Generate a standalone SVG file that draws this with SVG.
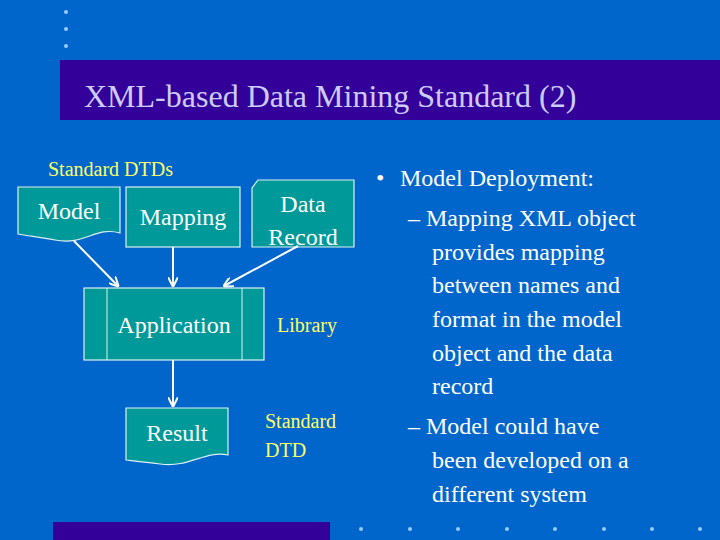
<svg xmlns="http://www.w3.org/2000/svg" width="720" height="540" viewBox="0 0 720 540">
<defs>
<style>
text{font-family:"Liberation Serif","Times New Roman","DejaVu Serif",serif}
.n{fill:#009999;stroke:#e0f0f0;stroke-width:1.2}
.t{fill:#fff}
.y{fill:#ffff66}
.d{fill:#99ccff}
.c{stroke:#fff;stroke-width:2;fill:none;marker-end:url(#a)}
</style>
<marker id="a" viewBox="0 0 10 10" refX="9" refY="5" markerWidth="5" markerHeight="5" orient="auto"><path d="M0,0L10,5L0,10" fill="none" stroke="#fff" stroke-width="2"/></marker>
</defs>
<rect width="720" height="540" fill="#0066cc"/>
<g id="deco">
<circle class="d" cx="66" cy="12" r="2"/><circle class="d" cx="66" cy="29" r="2"/><circle class="d" cx="66" cy="46" r="2"/>
<rect x="60" y="60" width="660" height="60" fill="#330099"/>
<rect x="53" y="522" width="277" height="18" fill="#330099"/>
<circle class="d" cx="361" cy="529" r="2"/><circle class="d" cx="410" cy="529" r="2"/><circle class="d" cx="458" cy="529" r="2"/><circle class="d" cx="507" cy="529" r="2"/><circle class="d" cx="555" cy="529" r="2"/><circle class="d" cx="604" cy="529" r="2"/><circle class="d" cx="652" cy="529" r="2"/><circle class="d" cx="700" cy="529" r="2"/>
</g>
<text x="84" y="107" font-size="32" fill="#ccccff">XML-based Data Mining Standard (2)</text>
<text class="y" x="48" y="176" font-size="20">Standard DTDs</text>
<g id="model"><path class="n" d="M18,187H120V233C95,226 85,246 55,240C40,237 28,236 18,234Z"/><text class="t" x="69" y="219" font-size="24" text-anchor="middle">Model</text></g>
<g id="mapping"><rect class="n" x="126" y="187" width="114" height="60"/><text class="t" x="183" y="225" font-size="24" text-anchor="middle">Mapping</text></g>
<g id="data"><path class="n" d="M258,180H354V247H252V188Z"/><text class="t" x="303" y="212" font-size="24" text-anchor="middle">Data</text><text class="t" x="303" y="245" font-size="24" text-anchor="middle">Record</text></g>
<g id="application"><rect class="n" x="84" y="288" width="180" height="72"/><line x1="107" y1="288" x2="107" y2="360" stroke="#e0f0f0"/><line x1="242" y1="288" x2="242" y2="360" stroke="#e0f0f0"/><text class="t" x="174" y="333" font-size="24" text-anchor="middle">Application</text></g>
<g id="result"><path class="n" d="M126,408H228V455C205,450 190,468 160,464C145,462 135,461 126,460Z"/><text class="t" x="177" y="441" font-size="24" text-anchor="middle">Result</text></g>
<text class="y" x="277" y="332" font-size="20">Library</text>
<text class="y" x="265" y="428" font-size="20">Standard</text>
<text class="y" x="265" y="457" font-size="20">DTD</text>
<g id="connectors">
<line class="c" x1="74" y1="241" x2="118" y2="286" stroke-width="3"/>
<line class="c" x1="173" y1="247" x2="173" y2="286"/>
<line class="c" x1="298" y1="246" x2="224" y2="286" stroke-width="2.5"/>
<line class="c" x1="173" y1="360" x2="173" y2="406"/>
</g>
<g class="t" font-size="24">
<text x="376" y="186">•</text><text x="400" y="186">Model Deployment:</text>
<text x="408" y="226">– Mapping XML object</text>
<text x="432" y="260">provides mapping</text>
<text x="432" y="293">between names and</text>
<text x="432" y="327">format in the model</text>
<text x="432" y="361">object and the data</text>
<text x="432" y="394">record</text>
<text x="408" y="434">– Model could have</text>
<text x="432" y="468">been developed on a</text>
<text x="432" y="502">different system</text>
</g>
</svg>
